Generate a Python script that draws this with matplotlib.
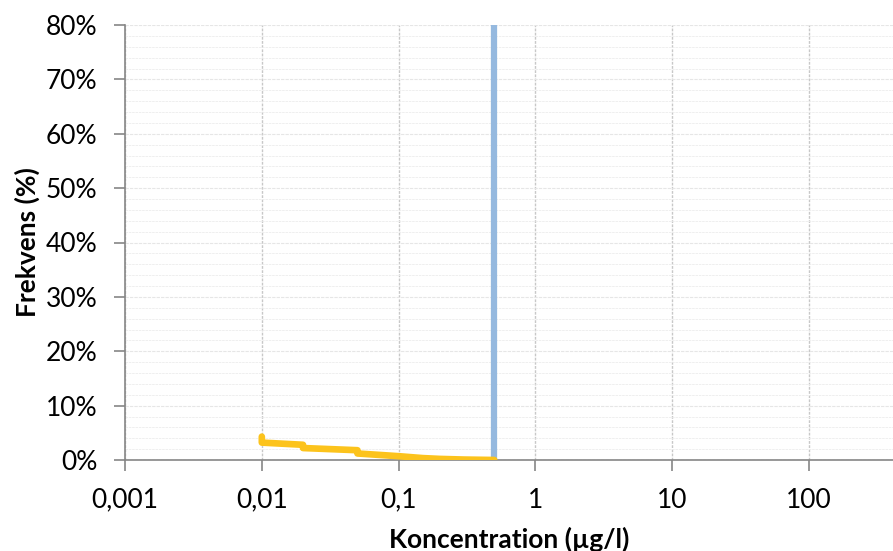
import matplotlib
matplotlib.use("Agg")
import matplotlib.pyplot as plt
from matplotlib.ticker import FixedLocator, FuncFormatter, MultipleLocator

plt.rcParams['font.family'] = ['Lato', 'DejaVu Sans']

# Cumulative frequency curve (yellow)
conc = [0.01, 0.01, 0.02, 0.02, 0.05, 0.05, 0.1, 0.15, 0.2, 0.3, 0.5]
freq = [4.3, 3.2, 2.8, 2.2, 1.8, 1.2, 0.7, 0.35, 0.2, 0.08, 0.0]

# Limit value (blue vertical line)
limit_x = [0.5, 0.5]
limit_y = [0, 80]

xticks = [0.001, 0.01, 0.1, 1, 10, 100]
xticklabels = ["0,001", "0,01", "0,1", "1", "10", "100"]
yticks = [0, 10, 20, 30, 40, 50, 60, 70, 80]

fig = plt.figure(figsize=(8.93, 5.51), dpi=100)
ax = fig.add_axes([125/893, (551-460)/551, 1-125/893, (460-25)/551])

ax.set_xscale('log')
ax.set_xlim(0.001, 10**(2 + (893-809)/137))
ax.set_ylim(0, 80)

ax.plot(limit_x, limit_y, color='#95b9df', lw=4.5, solid_capstyle='butt', zorder=3, clip_on=False)
ax.plot(conc, freq, color='#fcc31c', lw=4.8, solid_capstyle='round', solid_joinstyle='round', zorder=4)

ax.xaxis.set_major_locator(FixedLocator(xticks))
ax.xaxis.set_minor_locator(FixedLocator([]))
ax.set_xticklabels(xticklabels)
ax.yaxis.set_major_locator(FixedLocator(yticks))
ax.yaxis.set_major_formatter(FuncFormatter(lambda v, p: f"{int(v)}%"))
ax.yaxis.set_minor_locator(MultipleLocator(2))

ax.grid(True, which='major', axis='x', color='#c8c8c8', lw=1.0, ls=(0, (2, 1)))
ax.grid(True, which='major', axis='y', color='#e6e6e6', lw=0.8, ls=(0, (3, 1)))
ax.grid(True, which='minor', axis='y', color='#ececec', lw=0.6, ls=(0, (3, 1)))
ax.set_axisbelow(True)

for s in ['top', 'right']:
    ax.spines[s].set_visible(False)
for s in ['left', 'bottom']:
    ax.spines[s].set_color('#868686')
    ax.spines[s].set_linewidth(1.2)

ax.tick_params(axis='both', which='major', color='#868686', length=8, width=1.2,
               labelsize=19, labelcolor='black')
ax.tick_params(axis='x', pad=12)
ax.tick_params(axis='y', pad=12)
ax.tick_params(axis='y', which='minor', length=0)

ax.set_xlabel("Koncentration (µg/l)", fontsize=19, fontweight='bold', labelpad=10)
ax.set_ylabel("Frekvens (%)", fontsize=19, fontweight='bold', labelpad=4)

fig.savefig("out.png", dpi=100)
